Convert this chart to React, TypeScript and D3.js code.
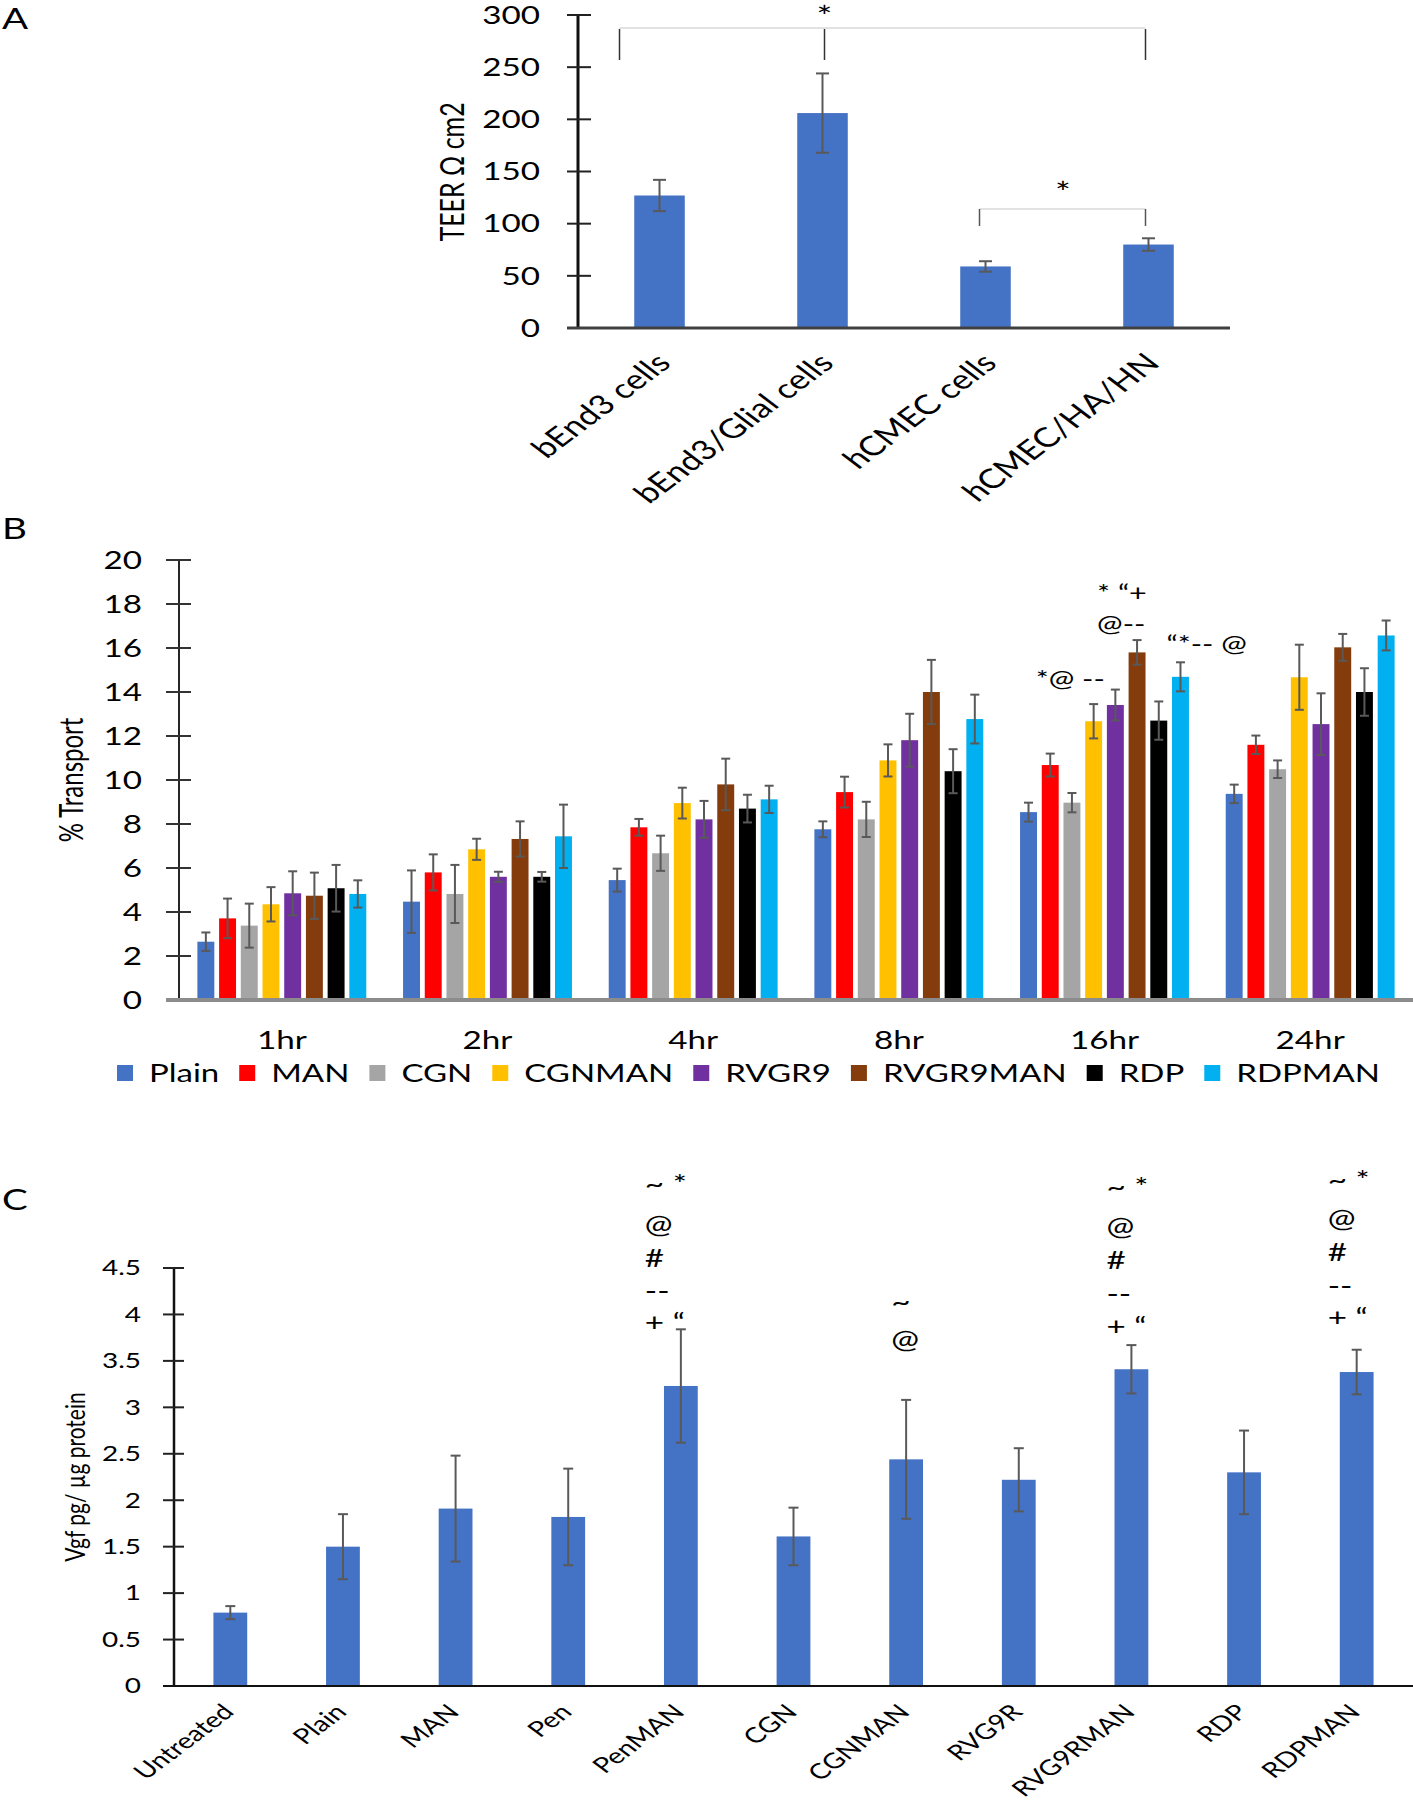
import { useEffect, useRef } from 'react';
import * as d3 from 'd3';

// the source figure was stretched sideways, so every text is widened the same way
const SX = 1.33;
const FONT = 'Lato, "Open Sans", sans-serif';

// Panel A - TEER
const teerCats = ['bEnd3 cells', 'bEnd3/Glial cells', 'hCMEC cells', 'hCMEC/HA/HN'];
const teerMean = [127, 206, 59, 80];
const teerErr = [15, 38, 5, 6];
const teerTicks = [0, 50, 100, 150, 200, 250, 300];

// Panel B - % transport
const timeCats = ['1hr', '2hr', '4hr', '8hr', '16hr', '24hr'];
const seriesNames = ['Plain', 'MAN', 'CGN', 'CGNMAN', 'RVGR9', 'RVGR9MAN', 'RDP', 'RDPMAN'];
const seriesColors = ['#4472C4', '#FF0000', '#A5A5A5', '#FFC000', '#7030A0', '#843C0C', '#000000', '#00B0F0'];
const transportMean = [
  [2.65, 4.47, 5.45, 7.76, 8.54, 9.37],
  [3.71, 5.8, 7.85, 9.45, 10.68, 11.6],
  [3.38, 4.82, 6.67, 8.21, 8.97, 10.49],
  [4.35, 6.85, 8.95, 10.89, 12.67, 14.67],
  [4.85, 5.6, 8.21, 11.81, 13.41, 12.54],
  [4.74, 7.32, 9.8, 14.0, 15.8, 16.03],
  [5.08, 5.6, 8.7, 10.4, 12.7, 14.0],
  [4.82, 7.44, 9.12, 12.77, 14.69, 16.57],
];
const transportErr = [
  [0.42, 1.42, 0.52, 0.36, 0.43, 0.42],
  [0.9, 0.82, 0.38, 0.7, 0.52, 0.42],
  [1.0, 1.32, 0.8, 0.8, 0.44, 0.4],
  [0.78, 0.48, 0.7, 0.73, 0.78, 1.48],
  [1.0, 0.23, 0.84, 1.2, 0.7, 1.4],
  [1.05, 0.8, 1.17, 1.46, 0.56, 0.61],
  [1.06, 0.22, 0.63, 1.0, 0.87, 1.08],
  [0.62, 1.44, 0.62, 1.11, 0.66, 0.68],
];
const transportTicks = [0, 2, 4, 6, 8, 10, 12, 14, 16, 18, 20];
// significance marks over the 16hr bars: [anchor series, pixel shift, level in %, text]
const transportMarks: [string, number, number, string][] = [
  ['RVGR9MAN', -40, 18.5, '* \u201C+'],
  ['RVGR9MAN', -40, 17.1, '@--'],
  ['RDPMAN', -14, 16.2, '\u201C*-- @'],
  ['CGNMAN', -58, 14.6, '*@ --'],
];

// Panel C - Vgf
const vgfCats = ['Untreated', 'Plain', 'MAN', 'Pen', 'PenMAN', 'CGN', 'CGNMAN', 'RVG9R', 'RVG9RMAN', 'RDP', 'RDPMAN'];
const vgfMean = [0.79, 1.5, 1.91, 1.82, 3.23, 1.61, 2.44, 2.22, 3.41, 2.3, 3.38];
const vgfErr = [0.07, 0.35, 0.57, 0.52, 0.61, 0.31, 0.64, 0.34, 0.26, 0.45, 0.24];
const vgfTicks = [0, 0.5, 1, 1.5, 2, 2.5, 3, 3.5, 4, 4.5];
const vgfMarks: [string, number, number, string][] = [
  ['PenMAN', -36, 5.4, '~ *'],
  ['PenMAN', -36, 4.97, '@'],
  ['PenMAN', -36, 4.61, '#'],
  ['PenMAN', -36, 4.25, '--'],
  ['PenMAN', -36, 3.92, '+ \u201C'],
  ['CGNMAN', -15, 4.13, '~'],
  ['CGNMAN', -15, 3.73, '@'],
  ['RVG9RMAN', -25, 5.37, '~ *'],
  ['RVG9RMAN', -25, 4.95, '@'],
  ['RVG9RMAN', -25, 4.58, '#'],
  ['RVG9RMAN', -25, 4.22, '--'],
  ['RVG9RMAN', -25, 3.87, '+ \u201C'],
  ['RDPMAN', -29, 5.45, '~ *'],
  ['RDPMAN', -29, 5.04, '@'],
  ['RDPMAN', -29, 4.67, '#'],
  ['RDPMAN', -29, 4.3, '--'],
  ['RDPMAN', -29, 3.97, '+ \u201C'],
];

type G = d3.Selection<SVGGElement, unknown, null, undefined>;

function label(
  g: G,
  x: number,
  y: number,
  txt: string,
  size: number,
  opts: { anchor?: string; rotate?: number; dy?: string; fill?: string } = {}
) {
  const { anchor = 'start', rotate = 0, dy = '0.35em', fill = '#000' } = opts;
  return g
    .append('g')
    .attr('transform', `translate(${x},${y}) scale(${SX},1)${rotate ? ` rotate(${rotate})` : ''}`)
    .append('text')
    .attr('text-anchor', anchor)
    .attr('dy', dy)
    .attr('font-family', FONT)
    .attr('font-size', size)
    .attr('fill', fill)
    .text(txt);
}

function line(g: G, x1: number, y1: number, x2: number, y2: number, color: string, w: number) {
  g.append('line')
    .attr('x1', x1)
    .attr('y1', y1)
    .attr('x2', x2)
    .attr('y2', y2)
    .attr('stroke', color)
    .attr('stroke-width', w);
}

function errorBar(g: G, cx: number, yHi: number, yLo: number, cap: number) {
  line(g, cx, yHi, cx, yLo, '#595959', 2);
  line(g, cx - cap, yHi, cx + cap, yHi, '#595959', 2);
  line(g, cx - cap, yLo, cx + cap, yLo, '#595959', 2);
}

const App = () => {
  const svgRef = useRef<SVGSVGElement>(null);

  useEffect(() => {
    if (!svgRef.current) return;
    document.body.style.margin = '0';
    const root = d3.select(svgRef.current);
    root.selectAll('*').remove();
    const svg = root.append('g') as G;

    // ---------- Panel A ----------
    const xA = d3.scaleBand().domain(teerCats).range([578, 1230]);
    const yA = d3.scaleLinear().domain([0, 300]).range([328, 15]);
    const bwA = xA.bandwidth() * 0.31;
    const cA = (c: string) => xA(c)! + xA.bandwidth() / 2;

    label(svg, 2, 19, 'A', 29);

    svg
      .selectAll('.barA')
      .data(teerCats)
      .enter()
      .append('rect')
      .attr('x', (d) => cA(d) - bwA / 2)
      .attr('y', (_, i) => yA(teerMean[i]))
      .attr('width', bwA)
      .attr('height', (_, i) => yA(0) - yA(teerMean[i]))
      .attr('fill', '#4472C4');
    teerCats.forEach((c, i) =>
      errorBar(svg, cA(c), yA(teerMean[i] + teerErr[i]), yA(teerMean[i] - teerErr[i]), 6.5)
    );

    line(svg, 578, yA(300), 578, yA(0), '#111', 3);
    teerTicks.forEach((t) => {
      line(svg, 567, yA(t), 591, yA(t), '#222', 2);
      label(svg, 540, yA(t), String(t), 25, { anchor: 'end' });
    });
    line(svg, 567, yA(0), 1230, yA(0), '#404040', 3);
    label(svg, 452, 172, 'TEER \u03A9 cm2', 25, { anchor: 'middle', rotate: -90 });
    teerCats.forEach((c) => label(svg, cA(c) + 4, yA(0) + 30, c, 27, { anchor: 'end', rotate: -45 }));

    // significance brackets
    const top = 28;
    line(svg, cA(teerCats[0]) - 40, top, cA(teerCats[3]) - 3, top, '#d9d9d9', 1.5);
    [cA(teerCats[0]) - 40, cA(teerCats[1]) + 2, cA(teerCats[3]) - 3].forEach((x) =>
      line(svg, x, top + 1, x, top + 32, '#333', 1.5)
    );
    label(svg, cA(teerCats[1]) + 2, 17, '*', 28, { anchor: 'middle' });
    const top2 = 209;
    line(svg, cA(teerCats[2]) - 6, top2, cA(teerCats[3]) - 3, top2, '#d9d9d9', 1.5);
    [cA(teerCats[2]) - 6, cA(teerCats[3]) - 3].forEach((x) => line(svg, x, top2, x, top2 + 17, '#555', 1.5));
    label(svg, (cA(teerCats[2]) + cA(teerCats[3])) / 2 - 4, 193, '*', 28, { anchor: 'middle' });

    // ---------- Panel B ----------
    const xB = d3.scaleBand().domain(timeCats).range([179, 1413]);
    const xS = d3.scaleBand().domain(seriesNames).range([16, xB.bandwidth() - 16]);
    const bwB = xS.bandwidth() * 0.78;
    const yB = d3.scaleLinear().domain([0, 20]).range([1000, 560]);
    const barX = (t: string, s: string) => xB(t)! + xS(s)! + (xS.bandwidth() - bwB) / 2;

    label(svg, 2, 529, 'B', 29);

    seriesNames.forEach((s, si) => {
      svg
        .selectAll(`.barB${si}`)
        .data(timeCats)
        .enter()
        .append('rect')
        .attr('x', (t) => barX(t, s))
        .attr('y', (_, ti) => yB(transportMean[si][ti]))
        .attr('width', bwB)
        .attr('height', (_, ti) => yB(0) - yB(transportMean[si][ti]))
        .attr('fill', seriesColors[si]);
    });
    seriesNames.forEach((s, si) =>
      timeCats.forEach((t, ti) => {
        const m = transportMean[si][ti];
        const e = transportErr[si][ti];
        errorBar(svg, barX(t, s) + bwB / 2, yB(m + e), yB(m - e), 4.5);
      })
    );

    line(svg, 179, yB(20), 179, yB(0), '#262626', 2);
    transportTicks.forEach((t) => {
      line(svg, 166, yB(t), 191, yB(t), '#333', 2);
      label(svg, 142, yB(t), String(t), 25, { anchor: 'end' });
    });
    line(svg, 166, yB(0), 1413, yB(0), '#8c8c8c', 4);
    label(svg, 72, 780, '% Transport', 24, { anchor: 'middle', rotate: -90 });
    timeCats.forEach((t) => label(svg, xB(t)! + xB.bandwidth() / 2, 1040, t, 25, { anchor: 'middle' }));

    transportMarks.forEach(([s, dx, lv, txt]) =>
      label(svg, barX('16hr', s) + bwB / 2 + dx, yB(lv), txt, 23)
    );

    // legend, fitted into the span the reference uses
    const legStart = 117;
    const legEnd = 1380;
    const sqGap = 32;
    const itemGap = 20;
    const legG = svg.append('g') as G;
    const probe = seriesNames.map((s) => {
      const t = label(legG, 0, 0, s, 26);
      return (t.node() as SVGTextElement).getComputedTextLength() * SX;
    });
    legG.remove();
    const room = legEnd - legStart - seriesNames.length * sqGap - (seriesNames.length - 1) * itemGap;
    const k = Math.min(1, room / d3.sum(probe));
    let lx = legStart;
    const ly = 1073;
    seriesNames.forEach((s, si) => {
      svg.append('rect').attr('x', lx).attr('y', ly - 8).attr('width', 16).attr('height', 16).attr('fill', seriesColors[si]);
      label(svg, lx + sqGap, ly, s, 26 * k);
      lx += sqGap + probe[si] * k + itemGap;
    });

    // ---------- Panel C ----------
    const xC = d3.scaleBand().domain(vgfCats).range([174, 1413]);
    const yC = d3.scaleLinear().domain([0, 4.5]).range([1686, 1268]);
    const bwC = xC.bandwidth() * 0.3;
    const cC = (c: string) => xC(c)! + xC.bandwidth() / 2;

    label(svg, 2, 1200, 'C', 29);

    svg
      .selectAll('.barC')
      .data(vgfCats)
      .enter()
      .append('rect')
      .attr('x', (d) => cC(d) - bwC / 2)
      .attr('y', (_, i) => yC(vgfMean[i]))
      .attr('width', bwC)
      .attr('height', (_, i) => yC(0) - yC(vgfMean[i]))
      .attr('fill', '#4472C4');
    vgfCats.forEach((c, i) => errorBar(svg, cC(c), yC(vgfMean[i] + vgfErr[i]), yC(vgfMean[i] - vgfErr[i]), 5));

    line(svg, 174, yC(4.5), 174, yC(0), '#111', 2.5);
    vgfTicks.forEach((t) => {
      line(svg, 163, yC(t), 184, yC(t), '#222', 2);
      label(svg, 141, yC(t), String(t), 21, { anchor: 'end' });
    });
    line(svg, 163, yC(0), 1413, yC(0), '#111', 2);
    label(svg, 75, 1477, 'Vgf pg/ \u00B5g protein', 21, { anchor: 'middle', rotate: -90 });
    vgfCats.forEach((c) => label(svg, cC(c) - 2, yC(0) + 22, c, 21.5, { anchor: 'end', rotate: -45 }));

    vgfMarks.forEach(([c, dx, lv, txt]) => label(svg, cC(c) + dx, yC(lv), txt, 25));
  }, []);

  return <svg ref={svgRef} width={1413} height={1800} style={{ display: 'block' }}></svg>;
};

export default App;
